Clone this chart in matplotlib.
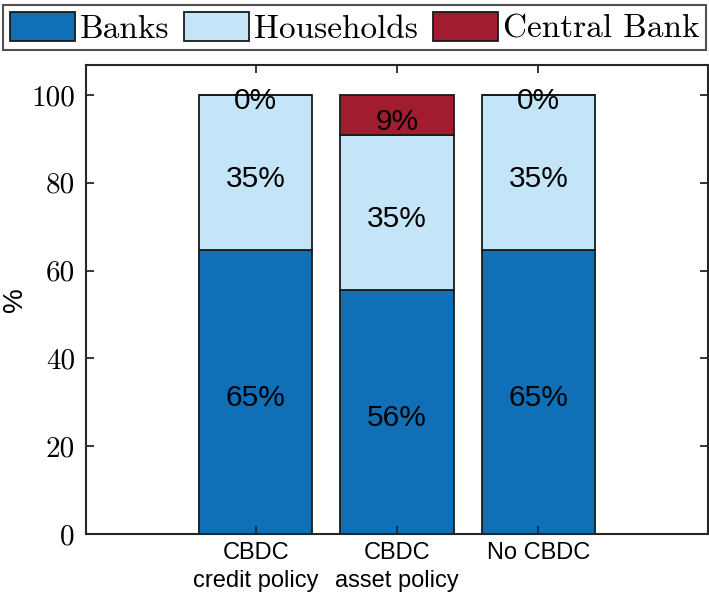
import numpy as np
import matplotlib
matplotlib.use('Agg')
import matplotlib.pyplot as plt
from matplotlib.patches import Patch

categories = ['CBDC\ncredit policy', 'CBDC\nasset policy', 'No CBDC']
series_names = ['Banks', 'Households', 'Central Bank']
banks = [64.7, 55.6, 64.7]
households = [35.3, 35.2, 35.3]
central_bank = [0.0, 9.2, 0.0]

colors = ['#0F70B7', '#C4E4F7', '#A21C30']

plt.rcParams['axes.formatter.use_mathtext'] = True

fig = plt.figure(figsize=(7.09, 5.95), dpi=100)
ax = fig.add_axes([0.1213, 0.1025, 0.8773, 0.7883])

x = np.arange(1, len(categories) + 1)
bottom = np.zeros(len(categories))
for vals, col in zip([banks, households, central_bank], colors):
    vals = np.array(vals)
    ax.bar(x, vals, 0.8, bottom=bottom, color=col, edgecolor='#1a1a1a', linewidth=1.3)
    for xi, b, v in zip(x, bottom, vals):
        ax.annotate('%d%%' % round(v), (xi, b + v / 2), xytext=(0, -2.5),
                    textcoords='offset points', ha='center', va='center_baseline',
                    fontsize=21.5, family='Liberation Sans', color='k')
    bottom = bottom + vals

ax.set_xlim(-0.2, 4.2)
ax.set_ylim(0, 106.8)
ax.set_xticks(x)
ax.set_xticklabels(categories, family='Liberation Sans', fontsize=17, linespacing=1.35)
ax.set_yticks([0, 20, 40, 60, 80, 100])
ax.set_yticklabels(['0', '20', '40', '60', '80', '100'], family='cmr10', fontsize=21)
ax.tick_params(direction='in', length=6, width=1.3, color='#262626', top=True, right=True)
ax.tick_params(axis='x', pad=6)
ax.tick_params(axis='y', pad=8)
for s in ax.spines.values():
    s.set_linewidth(1.5)
    s.set_color('#262626')
ax.set_ylabel('%', family='Liberation Sans', fontsize=20, labelpad=2)

handles = [Patch(facecolor=c, edgecolor='#1a1a1a', linewidth=1.3) for c in colors]
leg = fig.legend(handles, series_names, loc='upper center', bbox_to_anchor=(0.5, 0.997),
                 ncol=3, prop={'family': 'cmr10', 'size': 24}, frameon=True, fancybox=False,
                 edgecolor='#262626', handlelength=1.95, handleheight=0.96,
                 handletextpad=0.15, columnspacing=0.45, borderpad=0.2, borderaxespad=0.1)
leg.get_frame().set_linewidth(1.5)

fig.savefig('out.png', dpi=100)
